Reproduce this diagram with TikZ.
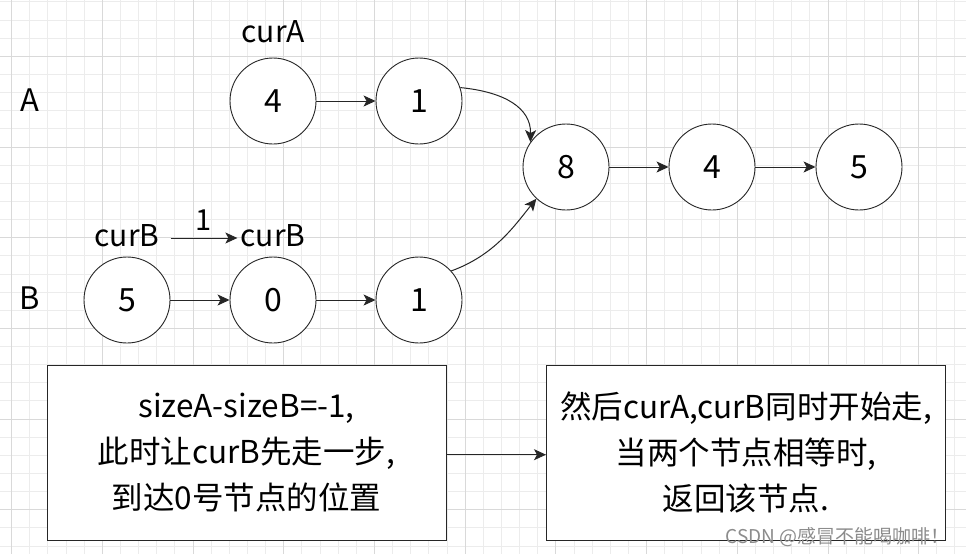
\documentclass[tikz,border=0pt]{standalone}
\usepackage{fontspec}
\setmainfont{Noto Sans CJK SC}
\usetikzlibrary{arrows.meta}
\definecolor{gridminor}{HTML}{ECECEC}
\definecolor{gridmajor}{HTML}{D9D9D9}
\tikzset{
  listnode/.style={circle,draw=black!85,line width=0.9pt,minimum size=86pt,inner sep=0pt,font=\fontsize{32}{38}\selectfont},
  link/.style={draw=black!85,line width=1pt,-{Stealth[length=12pt,width=11pt,inset=3pt]}},
  tag/.style={inner sep=0pt,font=\fontsize{30}{36}\selectfont},
  rowtag/.style={inner sep=0pt,font=\fontsize{31}{36}\selectfont},
  notebox/.style={draw=black!85,line width=1pt,minimum width=399pt,minimum height=175pt,inner sep=0pt,align=center,font=\fontsize{31.5}{46}\selectfont},
}
\begin{document}
\begin{tikzpicture}[x=1pt,y=-1pt]
\useasboundingbox (0,0) rectangle (966,554);
\fill[white] (0,0) rectangle (966,554);
% grid
\foreach \i in {0,...,52}{\pgfmathsetmacro\xx{11.7+18.14*\i}\draw[gridminor,line width=1pt] (\xx,0) -- (\xx,554);}
\foreach \j in {0,...,30}{\pgfmathsetmacro\yy{1.9+18.14*\j}\draw[gridminor,line width=1pt] (0,\yy) -- (966,\yy);}
\foreach \k in {0,...,10}{\pgfmathsetmacro\xx{11.7+90.7*\k}\draw[gridmajor,line width=1pt] (\xx,0) -- (\xx,554);}
\foreach \k in {0,...,5}{\pgfmathsetmacro\yy{56.3+90.7*\k}\draw[gridmajor,line width=1pt] (0,\yy) -- (966,\yy);}

% list A
\node[listnode,fill=white] (a4) at (273,101) {4};
\node[listnode,fill=white] (a1) at (419,101) {1};
% common part
\node[listnode,fill=white] (c8) at (566,167) {8};
\node[listnode,fill=white] (c4) at (712,167) {4};
\node[listnode,fill=white] (c5) at (859,167) {5};
% list B
\node[listnode,fill=white] (b5) at (127,300) {5};
\node[listnode,fill=white] (b0) at (273,300) {0};
\node[listnode,fill=white] (b1) at (419,300) {1};

% labels
\node[tag] (curA) at (273,32) {curA};
\node[rowtag] (labA) at (30,100) {A};
\node[rowtag] (labB) at (30,298) {B};
\node[tag] (cb1) at (127,236) {curB};
\node[tag] (cb2) at (273,236) {curB};

% connectors
\draw[link] (a4) -- (a1);
\draw[link] (c8) -- (c4);
\draw[link] (c4) -- (c5);
\draw[link] (b5) -- (b0);
\draw[link] (b0) -- (b1);
\draw[link] (a1.18) .. controls (505,92) and (531,108) .. (c8.145);
\draw[link] (b1.42) .. controls (495,255) and (515,225) .. (c8.227);
\draw[link] ([xshift=11pt,yshift=-2pt]cb1.east) -- node[above=7pt,inner sep=0pt,font=\fontsize{29}{34}\selectfont] (one) {1} ([xshift=-3pt,yshift=-2pt]cb2.west);

% note boxes
\node[notebox,fill=white] (box1) at (246.5,452.7) {\raisebox{-3pt}{\parbox{399pt}{\centering sizeA-sizeB=-1,\\此时让curB先走一步,\\到达0号节点的位置}}};
\node[notebox,fill=white] (box2) at (746,452.7) {\raisebox{-3pt}{\parbox{398pt}{\centering 然后curA,curB同时开始走,\\当两个节点相等时,\\返回该节点.}}};
\draw[link] ([yshift=-2pt]box1.east) -- ([yshift=-2pt]box2.west);

% watermark
\node[inner sep=0pt,text=black!45,font=\fontsize{19}{22}\selectfont,anchor=east] (wm) at (950,537) {CSDN @感冒不能喝咖啡！};
\end{tikzpicture}
\end{document}
